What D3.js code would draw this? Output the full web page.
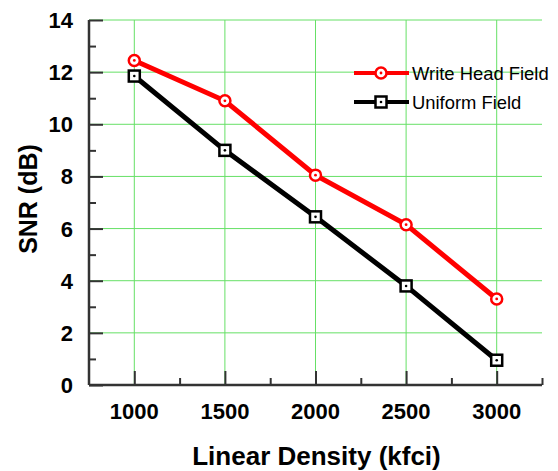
<!DOCTYPE html>
<html>
<head>
<meta charset="utf-8">
<script src="https://cdn.jsdelivr.net/npm/d3@7"></script>
<style>
  body { margin: 0; background: #fff; }
  text { font-family: "Liberation Sans", Arial, sans-serif; }
</style>
</head>
<body>
<div id="chart"></div>
<script>
// data
const density = [1000, 1500, 2000, 2500, 3000];
const writeHead = [12.45, 10.9, 8.05, 6.15, 3.3];
const uniform = [11.85, 9.0, 6.45, 3.8, 0.95];
const xTicks = [1000, 1500, 2000, 2500, 3000];
const yTicks = [0, 2, 4, 6, 8, 10, 12, 14];

const W = 558, H = 471;
const margin = {top: 20, right: 16, bottom: 86, left: 89};
const width = W - margin.left - margin.right;
const height = H - margin.top - margin.bottom;

const svg = d3.select("#chart").append("svg")
  .attr("width", W).attr("height", H);
const g = svg.append("g")
  .attr("transform", `translate(${margin.left},${margin.top})`);

const x = d3.scaleLinear().domain([750, 3250]).range([0, width]);
const y = d3.scaleLinear().domain([0, 14]).range([height, 0]);

// grid
g.append("g").selectAll("line").data(xTicks).join("line")
  .attr("x1", d => x(d)).attr("x2", d => x(d))
  .attr("y1", 0).attr("y2", height)
  .attr("stroke", "#66e066").attr("stroke-width", 1);
g.append("g").selectAll("line").data(yTicks.slice(1)).join("line")
  .attr("x1", 0).attr("x2", width)
  .attr("y1", d => y(d)).attr("y2", d => y(d))
  .attr("stroke", "#66e066").attr("stroke-width", 1);

// axes (ticks pointing inward)
const xAxis = g.append("g").attr("transform", `translate(0,${height})`)
  .call(d3.axisBottom(x).tickValues(d3.range(1000, 3251, 250))
    .tickSize(-7).tickFormat(""));
xAxis.selectAll(".tick line").filter(d => d % 500 === 0).attr("y2", -14);
const yAxis = g.append("g")
  .call(d3.axisLeft(y).tickValues(d3.range(0, 14.01, 1)).tickSize(-7).tickFormat(""));
yAxis.selectAll(".tick line").filter(d => d % 2 === 0).attr("x2", 14);
g.selectAll(".domain").attr("stroke", "#333").attr("stroke-width", 2.5);
g.selectAll(".tick line").attr("stroke", "#333").attr("stroke-width", 2);
xAxis.select(".domain").attr("d", `M0,0H${width}`);
yAxis.select(".domain").attr("d", `M0,0V${height}`);

// tick labels
g.append("g").selectAll("text").data(xTicks).join("text")
  .attr("x", d => x(d)).attr("y", height + 34)
  .attr("text-anchor", "middle").attr("font-size", 22).attr("font-weight", "bold")
  .text(d => d);
g.append("g").selectAll("text").data(yTicks).join("text")
  .attr("x", -16).attr("y", d => y(d) + 8)
  .attr("text-anchor", "end").attr("font-size", 22).attr("font-weight", "bold")
  .text(d => d);

// axis titles
svg.append("text").attr("x", margin.left + width / 2 + 1).attr("y", 465)
  .attr("text-anchor", "middle").attr("font-size", 26).attr("font-weight", "bold")
  .text("Linear Density (kfci)");
svg.append("text").attr("transform", "translate(37,199) rotate(-90)")
  .attr("text-anchor", "middle").attr("font-size", 25).attr("font-weight", "bold")
  .text("SNR (dB)");

const line = d3.line().x((d, i) => x(density[i])).y(d => y(d));

// series
g.append("path").datum(uniform).attr("d", line)
  .attr("fill", "none").attr("stroke", "#000").attr("stroke-width", 5);
g.append("path").datum(writeHead).attr("d", line)
  .attr("fill", "none").attr("stroke", "#f00").attr("stroke-width", 5);

function square(sel, cx, cy) {
  sel.append("rect").attr("x", cx - 5.5).attr("y", cy - 5.5)
    .attr("width", 11).attr("height", 11)
    .attr("fill", "#fff").attr("stroke", "#000").attr("stroke-width", 2.5);
  sel.append("circle").attr("cx", cx).attr("cy", cy).attr("r", 1.3).attr("fill", "#000");
}
function circ(sel, cx, cy) {
  sel.append("circle").attr("cx", cx).attr("cy", cy).attr("r", 5.5)
    .attr("fill", "#fff").attr("stroke", "#f00").attr("stroke-width", 2.5);
  sel.append("circle").attr("cx", cx).attr("cy", cy).attr("r", 1.4).attr("fill", "#f00");
}
uniform.forEach((v, i) => square(g, x(density[i]), y(v)));
writeHead.forEach((v, i) => circ(g, x(density[i]), y(v)));

// legend
const leg = svg.append("g");
const names = ["Write Head Field", "Uniform Field"];
const cols = ["#f00", "#000"];
names.forEach((n, i) => {
  const ly = 73 + i * 29;
  leg.append("line").attr("x1", 354).attr("x2", 409).attr("y1", ly).attr("y2", ly)
    .attr("stroke", cols[i]).attr("stroke-width", 4);
  if (i === 0) circ(leg, 381, ly); else square(leg, 381, ly);
  leg.append("text").attr("x", 412).attr("y", ly + 7).attr("font-size", 18.4).text(n);
});
</script>
</body>
</html>
